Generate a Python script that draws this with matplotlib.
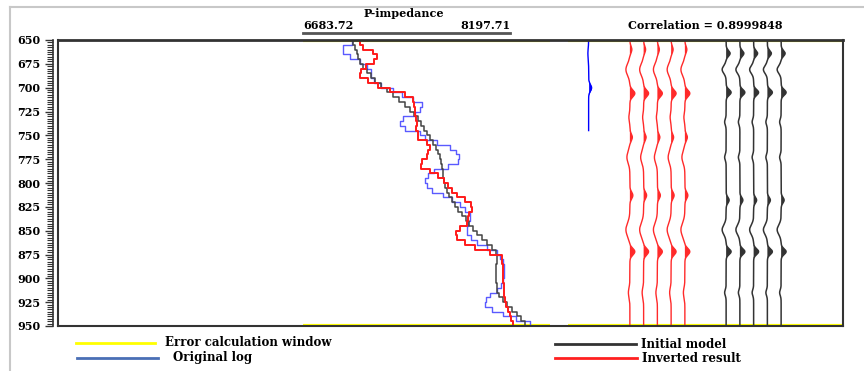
import numpy as np
import matplotlib.pyplot as plt
from matplotlib.lines import Line2D
from matplotlib.ticker import MultipleLocator

plt.rcParams['font.family'] = 'DejaVu Serif'
plt.rcParams['font.weight'] = 'bold'

# ── data ──────────────────────────────────────
# time samples (ms) of the logs, every 5 ms
depth = np.arange(650, 951, 5)

original_log = [7042, 6976, 6976, 7027, 7101, 7152, 7181, 7181, 7203, 7254,
                7342, 7408, 7488, 7554, 7539, 7503, 7415, 7393, 7430, 7539,
                7576, 7664, 7759, 7803, 7825, 7817, 7744, 7642, 7598, 7576,
                7591, 7627, 7708, 7773, 7832, 7869, 7905, 7905, 7891, 7883,
                7883, 7913, 7956, 8030, 8103, 8125, 8146, 8154, 8154, 8154,
                8146, 8132, 8103, 8051, 8022, 8015, 8066, 8146, 8241, 8344, 8417]

initial_model = [7049, 7064, 7079, 7086, 7101, 7122, 7152, 7181, 7210, 7254,
                 7298, 7342, 7386, 7430, 7466, 7496, 7525, 7547, 7569, 7591,
                 7613, 7634, 7656, 7671, 7686, 7693, 7700, 7708, 7708, 7715,
                 7722, 7737, 7752, 7773, 7795, 7817, 7847, 7876, 7898, 7927,
                 7956, 7993, 8030, 8066, 8095, 8103, 8103, 8095, 8095, 8095,
                 8095, 8103, 8103, 8117, 8146, 8176, 8212, 8249, 8278, 8307, 8329]

inverted_result = [7101, 7122, 7196, 7225, 7203, 7144, 7108, 7101, 7159, 7232,
                   7320, 7430, 7488, 7496, 7503, 7503, 7510, 7518, 7510, 7525,
                   7525, 7591, 7613, 7598, 7591, 7554, 7547, 7613, 7671, 7715,
                   7744, 7773, 7810, 7869, 7913, 7920, 7898, 7891, 7883, 7832,
                   7803, 7810, 7869, 7942, 8051, 8139, 8139, 8146, 8146, 8146,
                   8146, 8154, 8154, 8154, 8161, 8168, 8183, 8198, 8205, 8220, 8234]

imp_left, imp_right = 6683.72, 8197.71
correlation = 0.8999848
window = [650, 950]
y_ticks = [650, 675, 700, 725, 750, 775, 800, 825, 850, 875, 900, 925, 950]

# synthetic traces: events (ms), relative amplitudes, pulse widths (ms)
blue_events = [664, 700]
blue_amps = [-0.15, 0.6]
blue_widths = [5, 3.5]
blue_end = 745
red_events = [660, 681, 706, 731, 752, 773, 813, 849, 872, 915]
red_amps = [0.4, -0.8, 1.0, -0.2, 0.5, -0.6, 0.6, -0.8, 1.0, -0.3]
red_widths = [3.5, 6, 3.5, 4, 3.5, 6, 3.5, 7, 3.5, 5]
black_events = [664, 681, 705, 736, 773, 818, 849, 872, 915]
black_amps = [0.8, -0.8, 1.0, -0.3, -0.3, 0.6, -0.8, 1.0, -0.3]
black_widths = [3, 4, 3, 3, 3, 3, 5, 3, 3]

blue_pos = [1.5]
red_pos = [4.5, 5.5, 6.5, 7.5, 8.5]
black_pos = [11.5, 12.5, 13.5, 14.5, 15.5]


def trace(t, events, amps, widths):
    w = np.zeros_like(t)
    for e, a, s in zip(events, amps, widths):
        w += a * np.exp(-0.5 * ((t - e) / s) ** 2)
    return w


# ── figure ────────────────────────────────────
W, H = 864, 371
fig = plt.figure(figsize=(W / 100, H / 100), dpi=100)


def box(x0, x1, y0, y1):
    return [x0 / W, 1 - y1 / H, (x1 - x0) / W, (y1 - y0) / H]


frame = "#333333"
fs = 8

ax = fig.add_axes(box(58, 843, 40, 326))
ax_imp = fig.add_axes(box(303, 550, 40, 326))
ax_tr = fig.add_axes(box(568, 843, 40, 326))

ax.set_zorder(3)
ax.patch.set_visible(False)
for a in (ax_imp, ax_tr):
    a.set_zorder(1)
    a.axis("off")

for a in (ax, ax_imp, ax_tr):
    a.set_ylim(window[1], window[0])

# main frame with depth ruler
ax.set_xticks([])
ax.set_yticks(y_ticks)
ax.yaxis.set_minor_locator(MultipleLocator(2.5))
ax.tick_params(axis="y", which="major", length=6, width=1, color=frame,
               labelsize=fs, pad=3)
ax.tick_params(axis="y", which="minor", length=4, width=0.8, color=frame)
for s in ax.spines.values():
    s.set_color(frame)
    s.set_linewidth(1.5)
ax.spines["top"].set_linewidth(2)
ax.spines["left"].set_position(("outward", 3.6))
ax.spines["left"].set_linewidth(1.2)
ax.plot([0, 0], [0, 1], transform=ax.transAxes, color=frame, lw=1.5,
        clip_on=False)

# impedance track
ax_imp.set_xlim(imp_left, imp_left + (imp_right - imp_left) * 247 / 207)
ax_imp.plot(original_log, depth, drawstyle="steps-pre", color="#5a5aff", lw=1.0)
ax_imp.plot(initial_model, depth, drawstyle="steps-pre", color="#444444", lw=1.1)
ax_imp.plot(inverted_result, depth, drawstyle="steps-pre", color="#ff1a1a", lw=1.4)
for w in window:
    ax_imp.axhline(w, color="#ffff00", lw=3, zorder=0)

tr_x = ax_imp.get_xaxis_transform()
ax_imp.plot([imp_left, imp_right], [1.025, 1.025], transform=tr_x,
            color="#555555", lw=2, clip_on=False)
ax_imp.text(imp_left, 1.049, f"{imp_left:.2f}", transform=tr_x,
            ha="left", va="center", fontsize=fs)
ax_imp.text(imp_right, 1.049, f"{imp_right:.2f}", transform=tr_x,
            ha="right", va="center", fontsize=fs)
ax_imp.text(0.408, 1.091, "P-impedance", transform=ax_imp.transAxes,
            ha="center", va="center", fontsize=fs)

# synthetic trace track
ax_tr.set_xlim(0, 20)
t = np.linspace(window[0], window[1], 1201)
scale = 0.36
groups = [
    (blue_pos, blue_events, blue_amps, blue_widths, "#0000ff", blue_end, 1.0),
    (red_pos, red_events, red_amps, red_widths, "#ff2a2a", window[1], 1.0),
    (black_pos, black_events, black_amps, black_widths, "#333333", window[1], 1.1),
]
for pos_list, ev, am, wd, col, t_end, lw in groups:
    m = t <= t_end
    w = trace(t[m], ev, am, wd) * scale
    for p in pos_list:
        ax_tr.plot(p + w, t[m], color=col, lw=lw)
        ax_tr.fill_betweenx(t[m], p, p + w, where=w > 0.02, color=col, lw=0)
for w in window:
    ax_tr.axhline(w, color="#ffff00", lw=3, zorder=0)
ax_tr.text(0.5, 1.052, f"Correlation = {correlation}", transform=ax_tr.transAxes,
           ha="center", va="center", fontsize=fs)

# legend
legend_items = [
    (76, 155, 343, "#ffff00", "Error calculation window", 165),
    (77, 158, 358, "#4a6fb5", "Original log", 173),
    (555, 636, 344, "#333333", "Initial model", 641),
    (555, 637, 358, "#ff2020", "Inverted result", 642),
]
for x0, x1, y, col, label, xt in legend_items:
    fig.add_artist(Line2D([x0 / W, x1 / W], [1 - y / H] * 2, color=col, lw=2))
    fig.text(xt / W, 1 - y / H, label, ha="left", va="center", fontsize=fs + 0.5)

# outer frame
fig.add_artist(Line2D([10 / W, 10 / W], [0, 1 - 7 / H], color="#c8c8c8", lw=1.5))
fig.add_artist(Line2D([10 / W, 1], [1 - 7 / H] * 2, color="#c8c8c8", lw=1.5))

fig.savefig("out.png", dpi=100)
